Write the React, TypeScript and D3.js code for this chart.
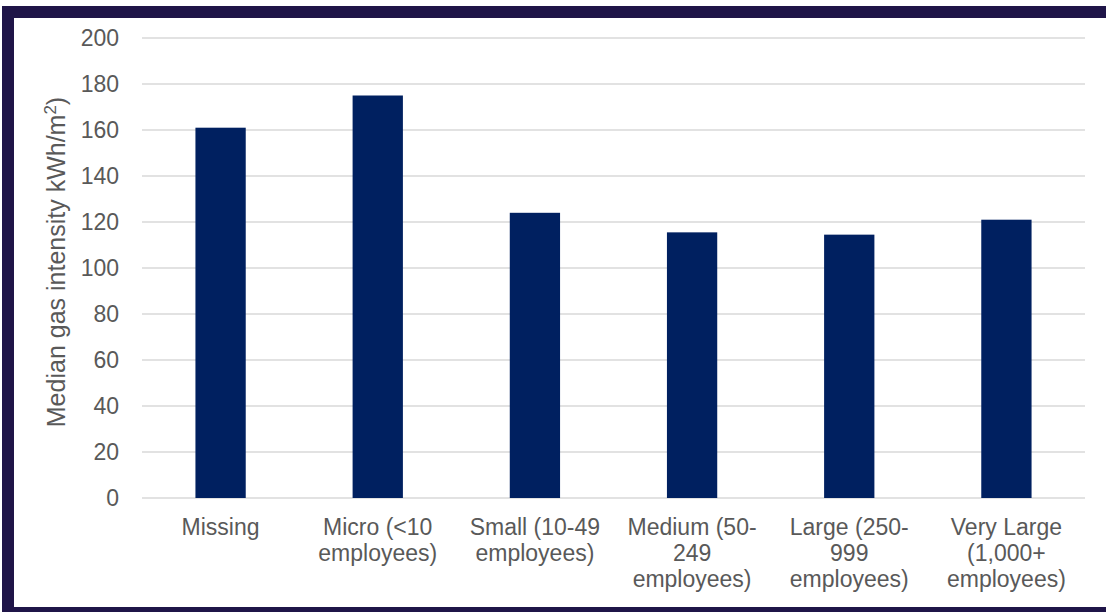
import React from "react";
import * as d3 from "d3";

const categories = [
  "Missing",
  "Micro (<10 employees)",
  "Small (10-49 employees)",
  "Medium (50-249 employees)",
  "Large (250-999 employees)",
  "Very Large (1,000+ employees)",
];
const labelLines = [
  ["Missing"],
  ["Micro (<10", "employees)"],
  ["Small (10-49", "employees)"],
  ["Medium (50-", "249", "employees)"],
  ["Large (250-", "999", "employees)"],
  ["Very Large", "(1,000+", "employees)"],
];
const values = [161, 175, 124, 115.5, 114.5, 121];
const yTicks = [0, 20, 40, 60, 80, 100, 120, 140, 160, 180, 200];

const W = 1106;
const H = 612;
const FONT = "'Liberation Sans', Arial, sans-serif";
const GREY = "#595959";
const FRAME = "#1f1548";

export default function App() {
  const x = d3
    .scaleBand<string>()
    .domain(categories)
    .range([142, 1085])
    .paddingInner(0.68)
    .paddingOuter(0.34);
  const y = d3.scaleLinear().domain([0, 200]).range([498, 38]);

  return (
    <div style={{ position: "fixed", left: 0, top: 0 }}>
      <svg width={W} height={H} style={{ display: "block", background: "#fff" }}>
        <rect x={0} y={0} width={W} height={H} fill="#fff" />
        {/* frame */}
        <rect x={2} y={6} width={W - 2} height={12} fill={FRAME} />
        <rect x={2} y={6} width={12} height={H - 6} fill={FRAME} />
        <rect x={2} y={607} width={W - 2} height={5} fill={FRAME} />

        {/* gridlines */}
        {yTicks.map((t) => (
          <line
            key={t}
            x1={142}
            x2={1085}
            y1={y(t)}
            y2={y(t)}
            stroke="#d9d9d9"
            strokeWidth={1.4}
          />
        ))}
        {/* y tick labels */}
        {yTicks.map((t) => (
          <text
            key={"l" + t}
            x={119}
            y={y(t) + 8}
            textAnchor="end"
            fontFamily={FONT}
            fontSize={23}
            fill={GREY}
          >
            {t}
          </text>
        ))}
        {/* bars */}
        {categories.map((c, i) => (
          <rect
            key={c}
            x={x(c)}
            y={y(values[i])}
            width={x.bandwidth()}
            height={y(0) - y(values[i])}
            fill="#002060"
          />
        ))}
        {/* category labels */}
        {categories.map((c, i) => (
          <text
            key={"c" + c}
            x={(x(c) as number) + x.bandwidth() / 2}
            y={535}
            textAnchor="middle"
            fontFamily={FONT}
            fontSize={23}
            fill={GREY}
          >
            {labelLines[i].map((ln, j) => (
              <tspan key={j} x={(x(c) as number) + x.bandwidth() / 2} y={535 + j * 26}>
                {ln}
              </tspan>
            ))}
          </text>
        ))}
        {/* y axis title */}
        <text
          transform={`translate(65,262) rotate(-90)`}
          textAnchor="middle"
          fontFamily={FONT}
          fontSize={25}
          fill={GREY}
        >
          Median gas intensity kWh/m
          <tspan dy={-9} fontSize={17}>2</tspan>
          <tspan dy={9}>)</tspan>
        </text>
      </svg>
    </div>
  );
}
